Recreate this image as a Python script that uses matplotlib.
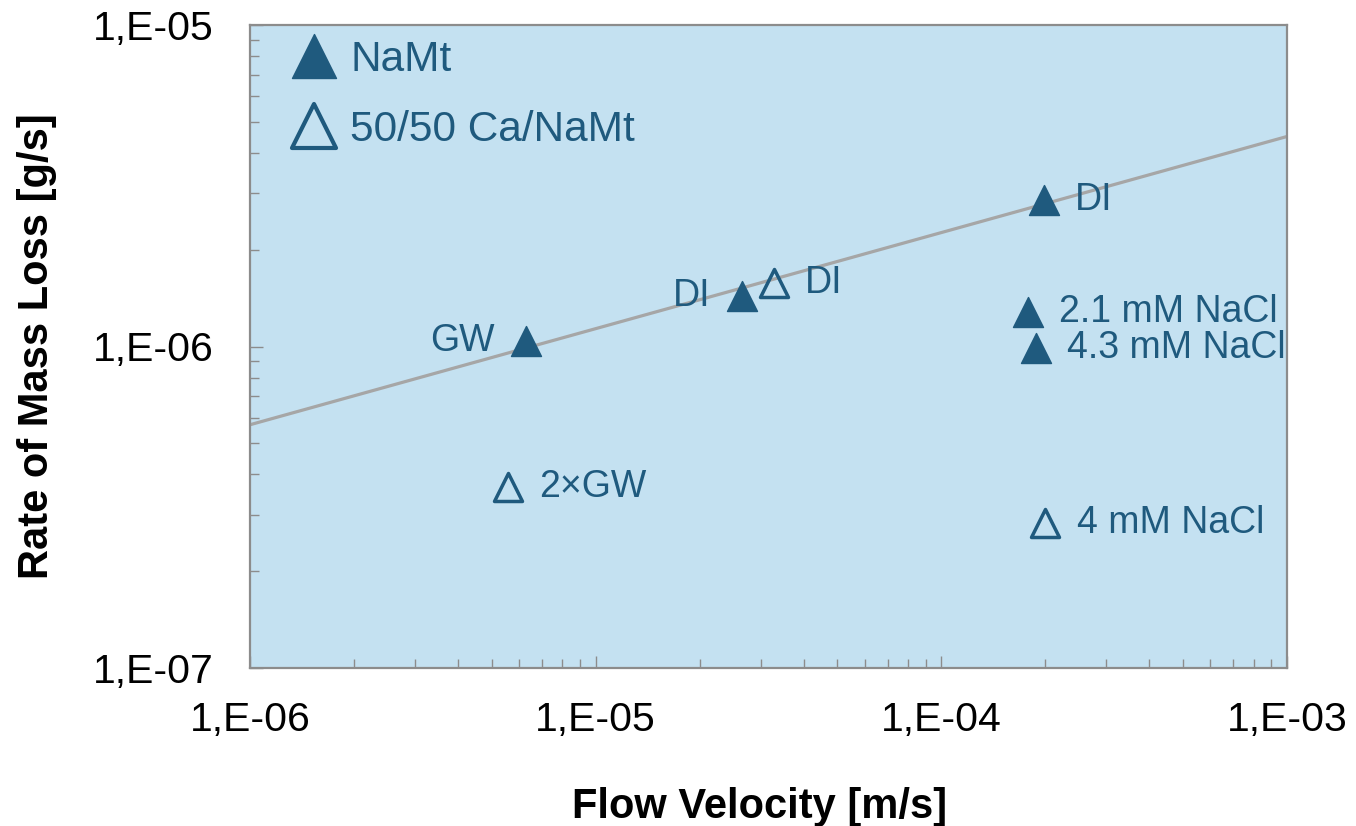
import matplotlib
matplotlib.use("Agg")
import matplotlib.pyplot as plt
from matplotlib.lines import Line2D
from matplotlib.markers import MarkerStyle
from matplotlib.ticker import LogLocator, FixedLocator, NullFormatter

plt.rcParams['font.family'] = ['Liberation Sans', 'DejaVu Sans']

# ---- data ----
namt_labels = ["GW", "DI", "DI", "2.1 mM NaCl", "4.3 mM NaCl"]
namt_velocity = [6.28e-6, 2.65e-5, 1.98e-4, 1.78e-4, 1.88e-4]
namt_rate = [1.04e-6, 1.44e-6, 2.86e-6, 1.28e-6, 9.9e-7]
namt_label_side = ["left", "left", "right", "right", "right"]

ca_labels = ["2×GW", "DI", "4 mM NaCl"]
ca_velocity = [5.57e-6, 3.28e-5, 2.0e-4]
ca_rate = [3.66e-7, 1.58e-6, 2.83e-7]
ca_label_side = ["right", "right", "right"]

fit_velocity = [1e-6, 1e-3]
fit_rate = [5.71e-7, 4.50e-6]

series_names = ["NaMt", "50/50 Ca/NaMt"]
x_ticks = [1e-6, 1e-5, 1e-4, 1e-3]
x_ticklabels = ["1,E-06", "1,E-05", "1,E-04", "1,E-03"]
y_ticks = [1e-7, 1e-6, 1e-5]
y_ticklabels = ["1,E-07", "1,E-06", "1,E-05"]

# ---- style ----
dark = "#1F5A7E"
bg = "#C4E1F1"
gray_axis = "#8C8C8C"
line_gray = "#A6A6A6"
tri = MarkerStyle('^', joinstyle='round')

fig = plt.figure(figsize=(13.56, 8.26), dpi=100)
ax = fig.add_axes([250/1356, 1 - 668/826, (1287-250)/1356, (668-25)/826])
ax.set_facecolor(bg)
ax.set_xscale('log')
ax.set_yscale('log')
ax.set_xlim(1e-6, 1e-3)
ax.set_ylim(1e-7, 1e-5)

ax.plot(fit_velocity, fit_rate, color=line_gray, lw=2.3, zorder=2)

ax.plot(namt_velocity, namt_rate, linestyle='none', marker=tri, markersize=21,
        markerfacecolor=dark, markeredgecolor=dark, markeredgewidth=1.0, zorder=3)
ax.plot(ca_velocity, ca_rate, linestyle='none', marker=tri, markersize=20,
        markerfacecolor='none', markeredgecolor=dark, markeredgewidth=2.5, zorder=3)

def label_points(xs, ys, labels, sides):
    for x, y, t, s in zip(xs, ys, labels, sides):
        off = 22.5 if s == "right" else -22.5
        ax.annotate(t, (x, y), xytext=(off, 0), textcoords='offset points',
                    ha='left' if s == "right" else 'right', va='center',
                    fontsize=27, color=dark, zorder=4)

label_points(namt_velocity, namt_rate, namt_labels, namt_label_side)
label_points(ca_velocity, ca_rate, ca_labels, ca_label_side)

# legend
h1 = Line2D([], [], linestyle='none', marker=tri, markersize=31,
            markerfacecolor=dark, markeredgecolor=dark, markeredgewidth=1.0)
h2 = Line2D([], [], linestyle='none', marker=tri, markersize=31,
            markerfacecolor='none', markeredgecolor=dark, markeredgewidth=3.0)
leg = ax.legend([h1, h2], series_names, loc='upper left',
                bbox_to_anchor=(0.0386, 0.977), frameon=False, fontsize=30.5,
                handlelength=1.14, handletextpad=0.28, borderpad=0.0,
                borderaxespad=0.0, labelspacing=0.72)
for t in leg.get_texts():
    t.set_color(dark)

# axes / ticks
for sp in ax.spines.values():
    sp.set_color(gray_axis)
    sp.set_linewidth(1.6)

ax.xaxis.set_major_locator(FixedLocator(x_ticks))
ax.set_xticklabels(x_ticklabels)
ax.yaxis.set_major_locator(FixedLocator(y_ticks))
ax.set_yticklabels(y_ticklabels)
ax.xaxis.set_minor_locator(LogLocator(base=10, subs=range(2, 10)))
ax.yaxis.set_minor_locator(LogLocator(base=10, subs=range(2, 10)))
ax.xaxis.set_minor_formatter(NullFormatter())
ax.yaxis.set_minor_formatter(NullFormatter())

ax.tick_params(axis='both', which='major', direction='in', length=9, width=1.0,
               color=gray_axis, labelsize=29.5, labelcolor='black')
ax.tick_params(axis='both', which='minor', direction='in', length=6.5, width=1.0,
               color=gray_axis)
ax.tick_params(axis='x', which='major', pad=24)
ax.tick_params(axis='y', which='major', pad=26)

ax.set_xlabel("Flow Velocity [m/s]", fontsize=30, fontweight='bold', va='baseline')
ax.xaxis.set_label_coords((760 - 250) / 1037, (668 - 818) / 643)
ax.set_ylabel("Rate of Mass Loss [g/s]", fontsize=30, fontweight='bold', va='center')
ax.yaxis.set_label_coords((37 - 250) / 1037, 0.5)

fig.savefig("out.png", dpi=100, facecolor='white')
